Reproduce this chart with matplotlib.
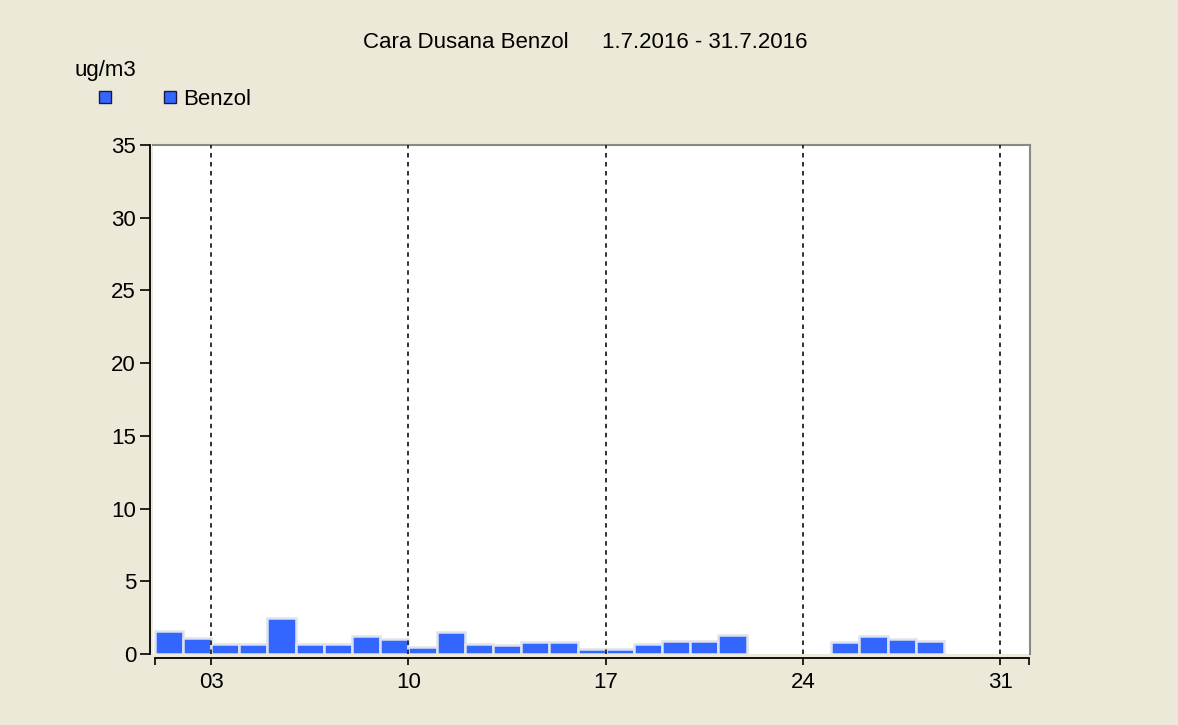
import numpy as np
import matplotlib.pyplot as plt
from matplotlib.lines import Line2D

plt.rcParams['font.family'] = ['Liberation Sans', 'DejaVu Sans']

# daily benzene values, July 2016 (nan = no data)
days = np.arange(1, 32)
benzol = [1.6, 1.1, 0.7, 0.7, 2.5, 0.7, 0.7, 1.25, 1.05, 0.5,
          1.5, 0.7, 0.65, 0.8, 0.8, 0.35, 0.35, 0.7, 0.9, 0.9,
          1.3, np.nan, np.nan, np.nan, 0.8, 1.25, 1.0, 0.9, np.nan, np.nan,
          np.nan]
tick_pos = [1, 3, 10, 17, 24, 31, 32]
tick_lab = ['', '03', '10', '17', '24', '31', '']

W, H = 1178, 725
bg = '#ECE9D8'
fig = plt.figure(figsize=(W / 100, H / 100), dpi=100, facecolor=bg)
ax = fig.add_axes([152.7 / W, 1 - 654 / H, (1030 - 152.7) / W, (654 - 145) / H])
ax.set_facecolor('white')

ax.bar(days, benzol, width=1, align='edge', color='#3366FF',
       edgecolor='#dde3ee', linewidth=1.8, zorder=2)

for x in [3, 10, 17, 24, 31]:
    ax.axvline(x, color='#222222', lw=1.3, ls=(0, (2.5, 2.5)), zorder=3)

ax.set_xlim(0.93, 32.05)
ax.set_ylim(0, 35)
ax.set_yticks(np.arange(0, 36, 5))
ax.set_xticks(tick_pos)
ax.set_xticklabels(tick_lab)

ax.spines['left'].set_position(('outward', 2))
ax.spines['bottom'].set_position(('outward', 3))
ax.spines['bottom'].set_bounds(1, 32)
for s in ['left', 'bottom']:
    ax.spines[s].set_color('black')
    ax.spines[s].set_linewidth(1.3)
for s in ['top', 'right']:
    ax.spines[s].set_color('#8a8a80')
    ax.spines[s].set_linewidth(1.5)

ax.tick_params(axis='y', length=7, width=1.2, pad=3, labelsize=16)
ax.tick_params(axis='x', length=5, width=1.2, pad=5, labelsize=16)

# title
fig.text(362.7 / W, 1 - 48 / H, 'Cara Dusana Benzol', fontsize=16,
         ha='left', va='baseline')
fig.text(601.7 / W, 1 - 48 / H, '1.7.2016 - 31.7.2016', fontsize=16,
         ha='left', va='baseline')

# unit and legend
fig.text(75 / W, 1 - 76 / H, 'ug/m3', fontsize=16, ha='left', va='baseline')
for cx in [105, 169.5]:
    fig.add_artist(Line2D([cx / W], [1 - 97 / H], marker='s', markersize=8,
                          markerfacecolor='#3366FF', markeredgecolor='#1a1a40',
                          markeredgewidth=1, transform=fig.transFigure))
fig.text(183.3 / W, 1 - 105 / H, 'Benzol', fontsize=16, ha='left', va='baseline')

fig.savefig('out.png', dpi=100, facecolor=bg)
